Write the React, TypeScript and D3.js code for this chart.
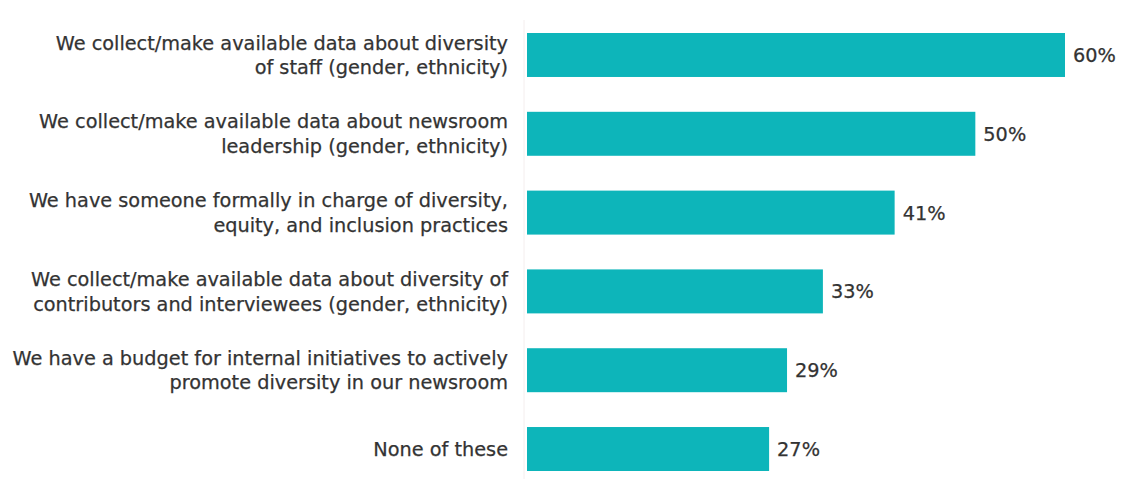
import React from "react";
import * as d3 from "d3";

const categories: string[][] = [
  ["We collect/make available data about diversity", "of staff (gender, ethnicity)"],
  ["We collect/make available data about newsroom", "leadership (gender, ethnicity)"],
  ["We have someone formally in charge of diversity,", "equity, and inclusion practices"],
  ["We collect/make available data about diversity of", "contributors and interviewees (gender, ethnicity)"],
  ["We have a budget for internal initiatives to actively", "promote diversity in our newsroom"],
  ["None of these"],
];
const values: number[] = [60, 50, 41, 33, 29, 27];

export default function App() {
  const W = 1124, H = 479;
  const x0 = 527;
  const x = d3.scaleLinear().domain([0, 60]).range([x0, 1065]);
  const y = d3
    .scaleBand<number>()
    .domain(d3.range(values.length))
    .range([33, 471])
    .paddingInner(0.442)
    .paddingOuter(0);
  const font = "'DejaVu Sans', 'Noto Sans', sans-serif";
  const fs = 19.3;
  return (
    <svg
      width={W}
      height={H}
      style={{ position: "absolute", left: 0, top: 0, background: "#fff" }}
    >
      <line x1={x0 - 3} x2={x0 - 3} y1={20} y2={479} stroke="#f4eeee" strokeWidth={1} />
      {values.map((v, i) => {
        const by = y(i)!;
        const bh = y.bandwidth();
        const cy = by + bh / 2;
        const lines = categories[i];
        const lh = 24.5;
        return (
          <g key={i}>
            <rect x={x0} y={by} width={x(v) - x0} height={bh} fill="#0DB5BA" />
            <text
              x={x(v) + 8}
              y={cy}
              dy="0.36em"
              fontFamily={font}
              fontSize={fs}
              fill="#333"
              stroke="#333"
              strokeWidth={0.25}
            >
              {v}%
            </text>
            {lines.map((l, j) => (
              <text
                key={j}
                x={508}
                y={cy + (j - (lines.length - 1) / 2) * lh}
                dy="0.36em"
                textAnchor="end"
                fontFamily={font}
                fontSize={fs}
                fill="#333"
                stroke="#333"
                strokeWidth={0.25}
              >
                {l}
              </text>
            ))}
          </g>
        );
      })}
    </svg>
  );
}
